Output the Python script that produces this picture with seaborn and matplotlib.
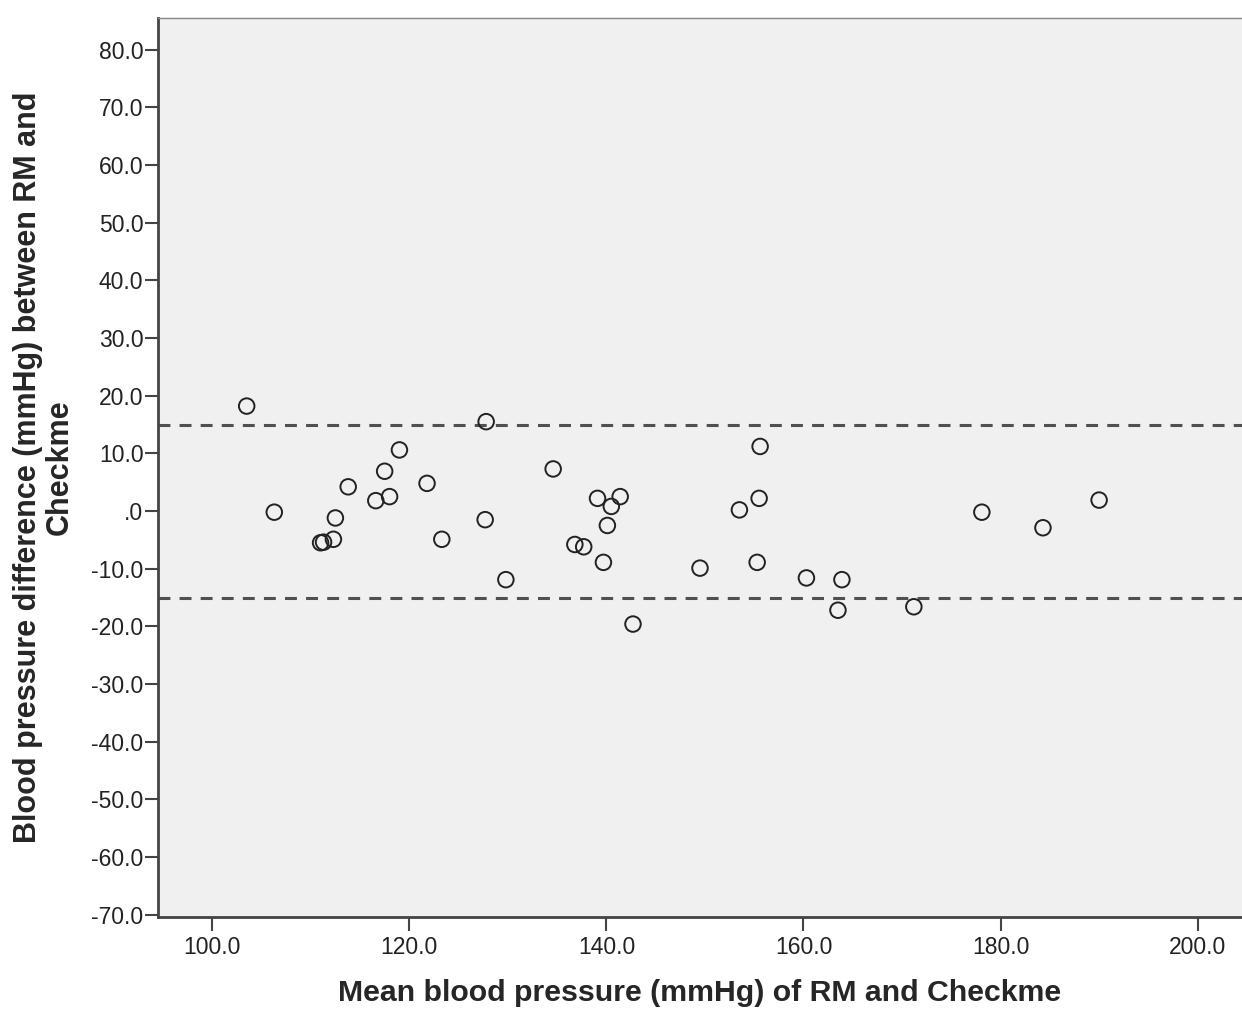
import matplotlib
matplotlib.use("Agg")
import matplotlib.pyplot as plt
import seaborn as sns
import pandas as pd

# mean of the two devices (x) and their difference (y)
mean_bp = [103.5, 127.8, 119.0, 117.5, 134.6, 113.8, 121.8, 116.6, 118.0,
           106.3, 112.5, 127.7, 111.0, 111.3, 112.3, 123.3, 129.8,
           155.6, 139.1, 141.4, 140.5, 140.1, 136.8, 137.7, 139.7, 142.7,
           149.5, 153.5, 155.5, 155.3, 160.3, 163.9, 163.5, 171.2,
           178.1, 184.3, 190.0]
diff_bp = [18.2, 15.5, 10.6, 6.9, 7.3, 4.2, 4.8, 1.8, 2.5,
           -0.2, -1.2, -1.5, -5.5, -5.4, -4.9, -4.9, -11.9,
           11.2, 2.2, 2.5, 0.8, -2.5, -5.8, -6.2, -8.9, -19.6,
           -9.9, 0.2, 2.2, -8.9, -11.6, -11.9, -17.2, -16.6,
           -0.2, -2.9, 1.9]
limits = [15.0, -15.0]
x_ticks = [100, 120, 140, 160, 180, 200]
y_ticks = list(range(-70, 90, 10))

df = pd.DataFrame({"mean": mean_bp, "diff": diff_bp})

sns.set_style("white")
plt.rcParams["font.family"] = ["Liberation Sans", "DejaVu Sans"]

fig = plt.figure(figsize=(12.42, 10.10), dpi=100)
ax = fig.add_axes([158 / 1242, 1 - 917 / 1010, 1 - 158 / 1242, (917 - 18) / 1010])
ax.set_facecolor("#f0f0f0")

for lim in limits:
    ax.axhline(lim, color="#505050", lw=2.2, dashes=(3.9, 3.0), zorder=1)

sns.scatterplot(data=df, x="mean", y="diff", ax=ax, marker="o", s=125,
                facecolor="none", edgecolor="#222222", linewidth=1.4, zorder=3)

ax.set_xlim(94.5, 204.5)
ax.set_ylim(-70.4, 85.5)
ax.set_xticks(x_ticks)
ax.set_xticklabels([f"{v:.1f}" for v in x_ticks])
ax.set_yticks(y_ticks)
ax.set_yticklabels([".0" if v == 0 else f"{v:.1f}" for v in y_ticks])

ax.tick_params(axis="both", direction="out", labelsize=16.5,
               labelcolor="#222222", color="#444444", width=1.5,
               bottom=True, left=True)
ax.tick_params(axis="x", length=10, pad=4)
ax.tick_params(axis="y", length=9.5, pad=1)

for side in ["left", "bottom"]:
    ax.spines[side].set_color("#444444")
    ax.spines[side].set_linewidth(2.0)
ax.spines["top"].set_color("#888888")
ax.spines["top"].set_linewidth(1.0)
ax.spines["right"].set_visible(False)

ax.set_xlabel("Mean blood pressure (mmHg) of RM and Checkme",
              fontsize=21.8, fontweight="bold", labelpad=14)
ax.set_ylabel("Blood pressure difference (mmHg) between RM and\nCheckme",
              fontsize=22, fontweight="bold", labelpad=12, linespacing=1.05)

fig.savefig("out.png", dpi=100, facecolor="white")
